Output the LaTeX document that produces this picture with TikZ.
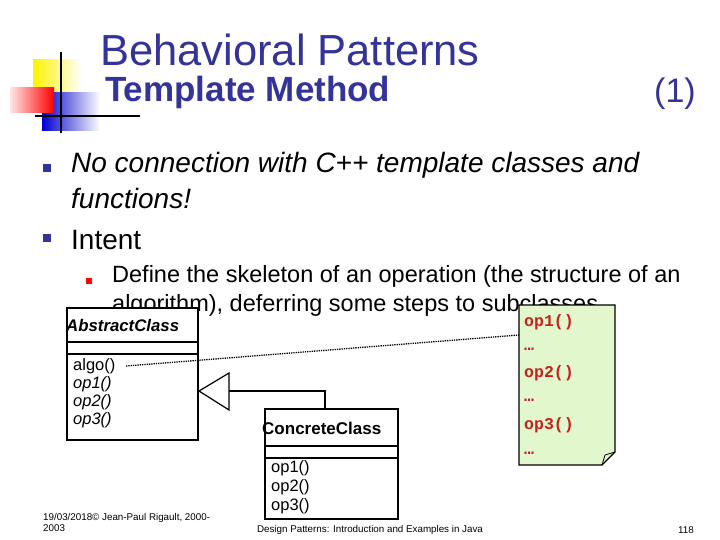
\documentclass[tikz,border=0pt]{standalone}
\usepackage{fontspec}
\setmainfont{Liberation Sans}
\setmonofont{Liberation Mono}
\usetikzlibrary{shapes.geometric}
\definecolor{navy}{HTML}{333399}
\definecolor{notegreen}{HTML}{E2F8CC}
\definecolor{opred}{HTML}{C8201E}
\tikzset{
  txt/.style={anchor=west,inner sep=0pt},
  umltxt/.style={txt,font=\fontsize{16.5}{16}\selectfont},
  optxt/.style={txt,font=\ttfamily\bfseries\fontsize{16.5}{16}\selectfont,text=opred},
  box/.style={draw,line width=1.2pt},
  bul/.style={fill=navy,minimum size=8pt,inner sep=0pt},
  foot/.style={inner sep=0pt,font=\fontsize{9.8}{11}\selectfont}
}
\begin{document}
\begin{tikzpicture}[x=1pt,y=-1pt]
\useasboundingbox (0,0) rectangle (720,540);
% logo
\shade[left color=yellow!90!orange,right color=white] (33,60) rectangle (82,95);
\shade[left color=blue!80!black,right color=white] (42,93) rectangle (100,131);
\shade[left color=red!10,right color=red] (10,88) rectangle (54,113);
\draw[line width=1.5pt] (61,52) -- (61,133);
\draw[line width=1.5pt] (35,116) -- (140,116);
% title
\node[txt,text=navy,font=\fontsize{43.5}{44}\selectfont] (t1) at (100,50) {Behavioral Patterns};
\node[txt,text=navy,font=\bfseries\fontsize{35}{35}\selectfont] (t2) at (105,92) {Template Method};
\node[txt,text=navy,font=\fontsize{34}{34}\selectfont] (t3) at (654,94) {(1)};
% bullets
\node[bul] (b1) at (47,168) {};
\node[bul] (b2) at (47,238) {};
\node[bul,fill=red,minimum size=6.5pt] (b3) at (89,281) {};
\node[txt,font=\itshape\fontsize{28}{28}\selectfont] (l1) at (71,165) {No connection with C++ template classes and};
\node[txt,font=\itshape\fontsize{28}{28}\selectfont] (l2) at (71,198) {functions!};
\node[txt,font=\fontsize{28}{28}\selectfont] (l3) at (71,240) {Intent};
\node[txt,font=\fontsize{23.5}{24}\selectfont] (l4) at (112,276) {Define the skeleton of an operation (the structure of an};
\node[txt,font=\fontsize{23.5}{24}\selectfont] (l5) at (112,305) {algorithm), deferring some steps to subclasses.};
% abstract class
\draw[box,fill=white] (67,308) rectangle (198,440);
\draw[box] (67,342) -- (198,342) (67,354) -- (198,354);
\node[umltxt,font=\bfseries\itshape\fontsize{16.8}{16}\selectfont] (ac) at (66,325) {AbstractClass};
\node[umltxt] (algo) at (73,366) {algo()};
\node[umltxt,font=\itshape\fontsize{16.5}{16}\selectfont] at (73,384) {op1()};
\node[umltxt,font=\itshape\fontsize{16.5}{16}\selectfont] at (73,402) {op2()};
\node[umltxt,font=\itshape\fontsize{16.5}{16}\selectfont] at (73,420) {op3()};
% concrete class
\draw[box,fill=white] (265,409) rectangle (398,519);
\draw[box] (265,446) -- (398,446) (265,458) -- (398,458);
\node[umltxt,font=\bfseries\fontsize{17}{16}\selectfont] (cc) at (262,428) {ConcreteClass};
\node[umltxt] at (271,468) {op1()};
\node[umltxt] at (271,487) {op2()};
\node[umltxt] at (271,506) {op3()};
% inheritance
\coordinate (tip) at (199,391);
\draw[line width=1.2pt] (325,409) -- (325,391) -- (229,391);
\draw[line width=1.2pt,fill=white] (tip) -- (229,373) -- (229,410) -- cycle;
% note
\draw[line width=1.1pt,fill=notegreen] (519,305) -- (615,305) -- (615,452) -- (602,465) -- (519,465) -- cycle;
\draw[line width=0.8pt] (602,465) -- (605,455) -- (615,452);
\node[optxt] (n1) at (524,322) {op1()};
\node[optxt] at (524,349) {…};
\node[optxt] at (524,373) {op2()};
\node[optxt] at (524,400) {…};
\node[optxt] at (524,425) {op3()};
\node[optxt] at (524,453) {…};
\coordinate (ne) at (519,335);
\draw[densely dotted,line width=1.3pt] (126,366) -- (ne);
% footer
\node[foot,align=left,anchor=north west] at (43,513) {19/03/2018© Jean-Paul Rigault, 2000-\\2003};
\node[foot] at (370,530) {Design Patterns: Introduction and Examples in Java};
\node[foot] at (686,530) {118};
\end{tikzpicture}
\end{document}
